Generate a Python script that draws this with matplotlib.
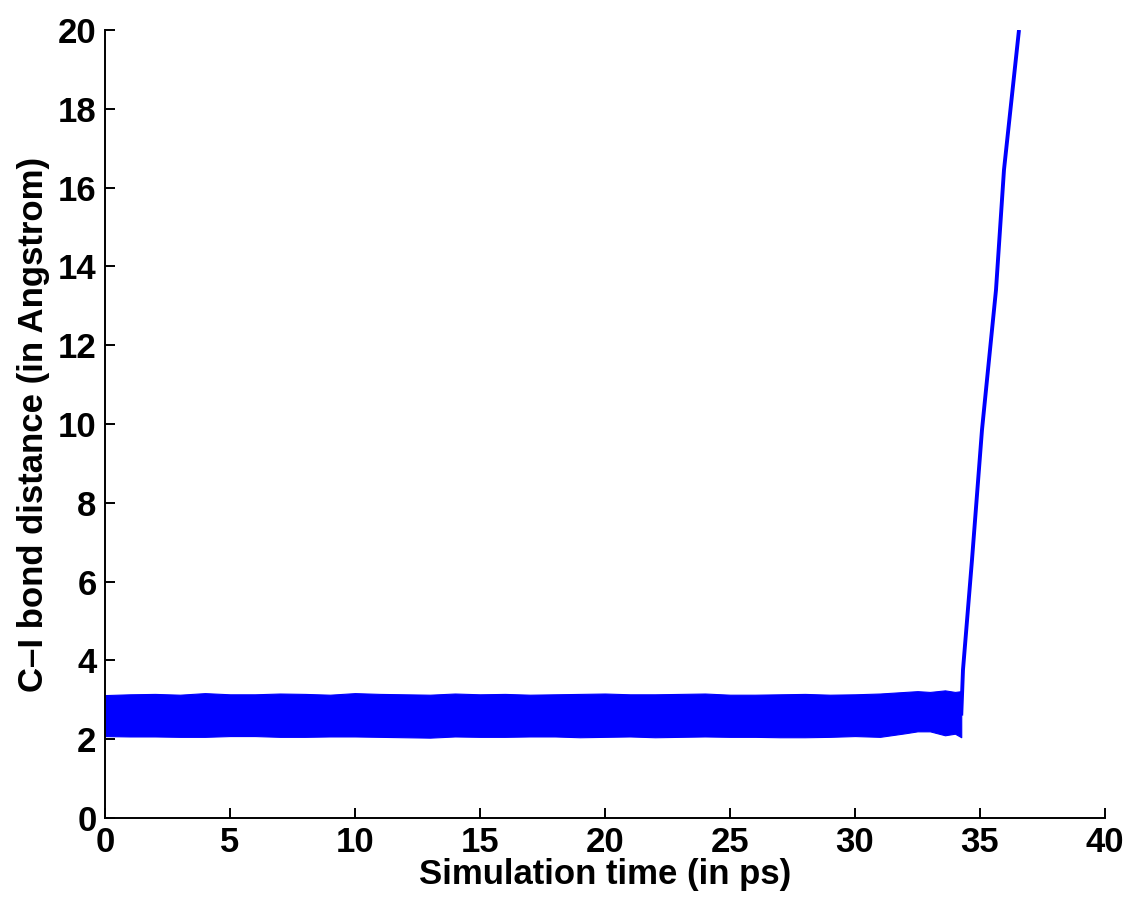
import matplotlib
matplotlib.use("Agg")
import matplotlib.pyplot as plt

# vibrating band (before dissociation): envelope
band_t = [0.0, 1.0, 2.0, 3.0, 4.0, 5.0, 6.0, 7.0, 8.0, 9.0, 10.0, 11.0, 12.0,
          13.0, 14.0, 15.0, 16.0, 17.0, 18.0, 19.0, 20.0, 21.0, 22.0, 23.0,
          24.0, 25.0, 26.0, 27.0, 28.0, 29.0, 30.0, 31.0, 32.0, 32.5, 33.0,
          33.6, 34.0, 34.25]
band_hi = [3.12, 3.14, 3.15, 3.13, 3.17, 3.14, 3.14, 3.16, 3.15, 3.13, 3.17, 3.15,
           3.14, 3.13, 3.16, 3.14, 3.15, 3.13, 3.14, 3.15, 3.16, 3.14, 3.14, 3.15,
           3.16, 3.13, 3.13, 3.14, 3.15, 3.13, 3.14, 3.16, 3.20, 3.22, 3.20,
           3.24, 3.20, 3.22]
band_lo = [2.08, 2.07, 2.07, 2.06, 2.06, 2.08, 2.08, 2.06, 2.06, 2.07, 2.07, 2.06,
           2.05, 2.04, 2.07, 2.06, 2.06, 2.07, 2.07, 2.05, 2.06, 2.07, 2.05, 2.06,
           2.07, 2.06, 2.06, 2.05, 2.05, 2.06, 2.08, 2.06, 2.15, 2.20, 2.20,
           2.10, 2.14, 2.05]

# dissociation: C-I distance grows to the top of the axes
rise_t = [34.25, 34.32, 34.68, 35.08, 35.64, 35.96, 36.56]
rise_d = [2.6, 3.76, 6.55, 9.85, 13.4, 16.45, 20.0]

FS = 25
plt.rcParams["font.family"] = ["Liberation Sans", "DejaVu Sans"]
plt.rcParams["font.weight"] = "bold"

fig = plt.figure(figsize=(11.31, 9.06), dpi=100)
ax = fig.add_axes([0.0928, 0.0971, 0.8842, 0.8698])

ax.fill_between(band_t, band_lo, band_hi, color="#0000ff", lw=0.8, edgecolor="#0000ff")
ax.plot(rise_t, rise_d, color="#0000ff", lw=2.8, solid_capstyle="butt")

ax.set_xlim(0, 40)
ax.set_ylim(0, 20)
ax.set_xticks(range(0, 41, 5))
ax.set_yticks(range(0, 21, 2))
for s in ("top", "right"):
    ax.spines[s].set_visible(False)
for s in ("left", "bottom"):
    ax.spines[s].set_linewidth(1.4)
ax.tick_params(direction="in", length=7, width=1.4, labelsize=FS, pad=6)
for lab in ax.get_xticklabels() + ax.get_yticklabels():
    lab.set_fontweight("bold")

ax.set_xlabel("Simulation time (in ps)", fontsize=FS, fontweight="bold", labelpad=-1)
ax.set_ylabel("C\u2013I bond distance (in Angstrom)", fontsize=FS, fontweight="bold", labelpad=6)

fig.savefig("out.png", dpi=100)
